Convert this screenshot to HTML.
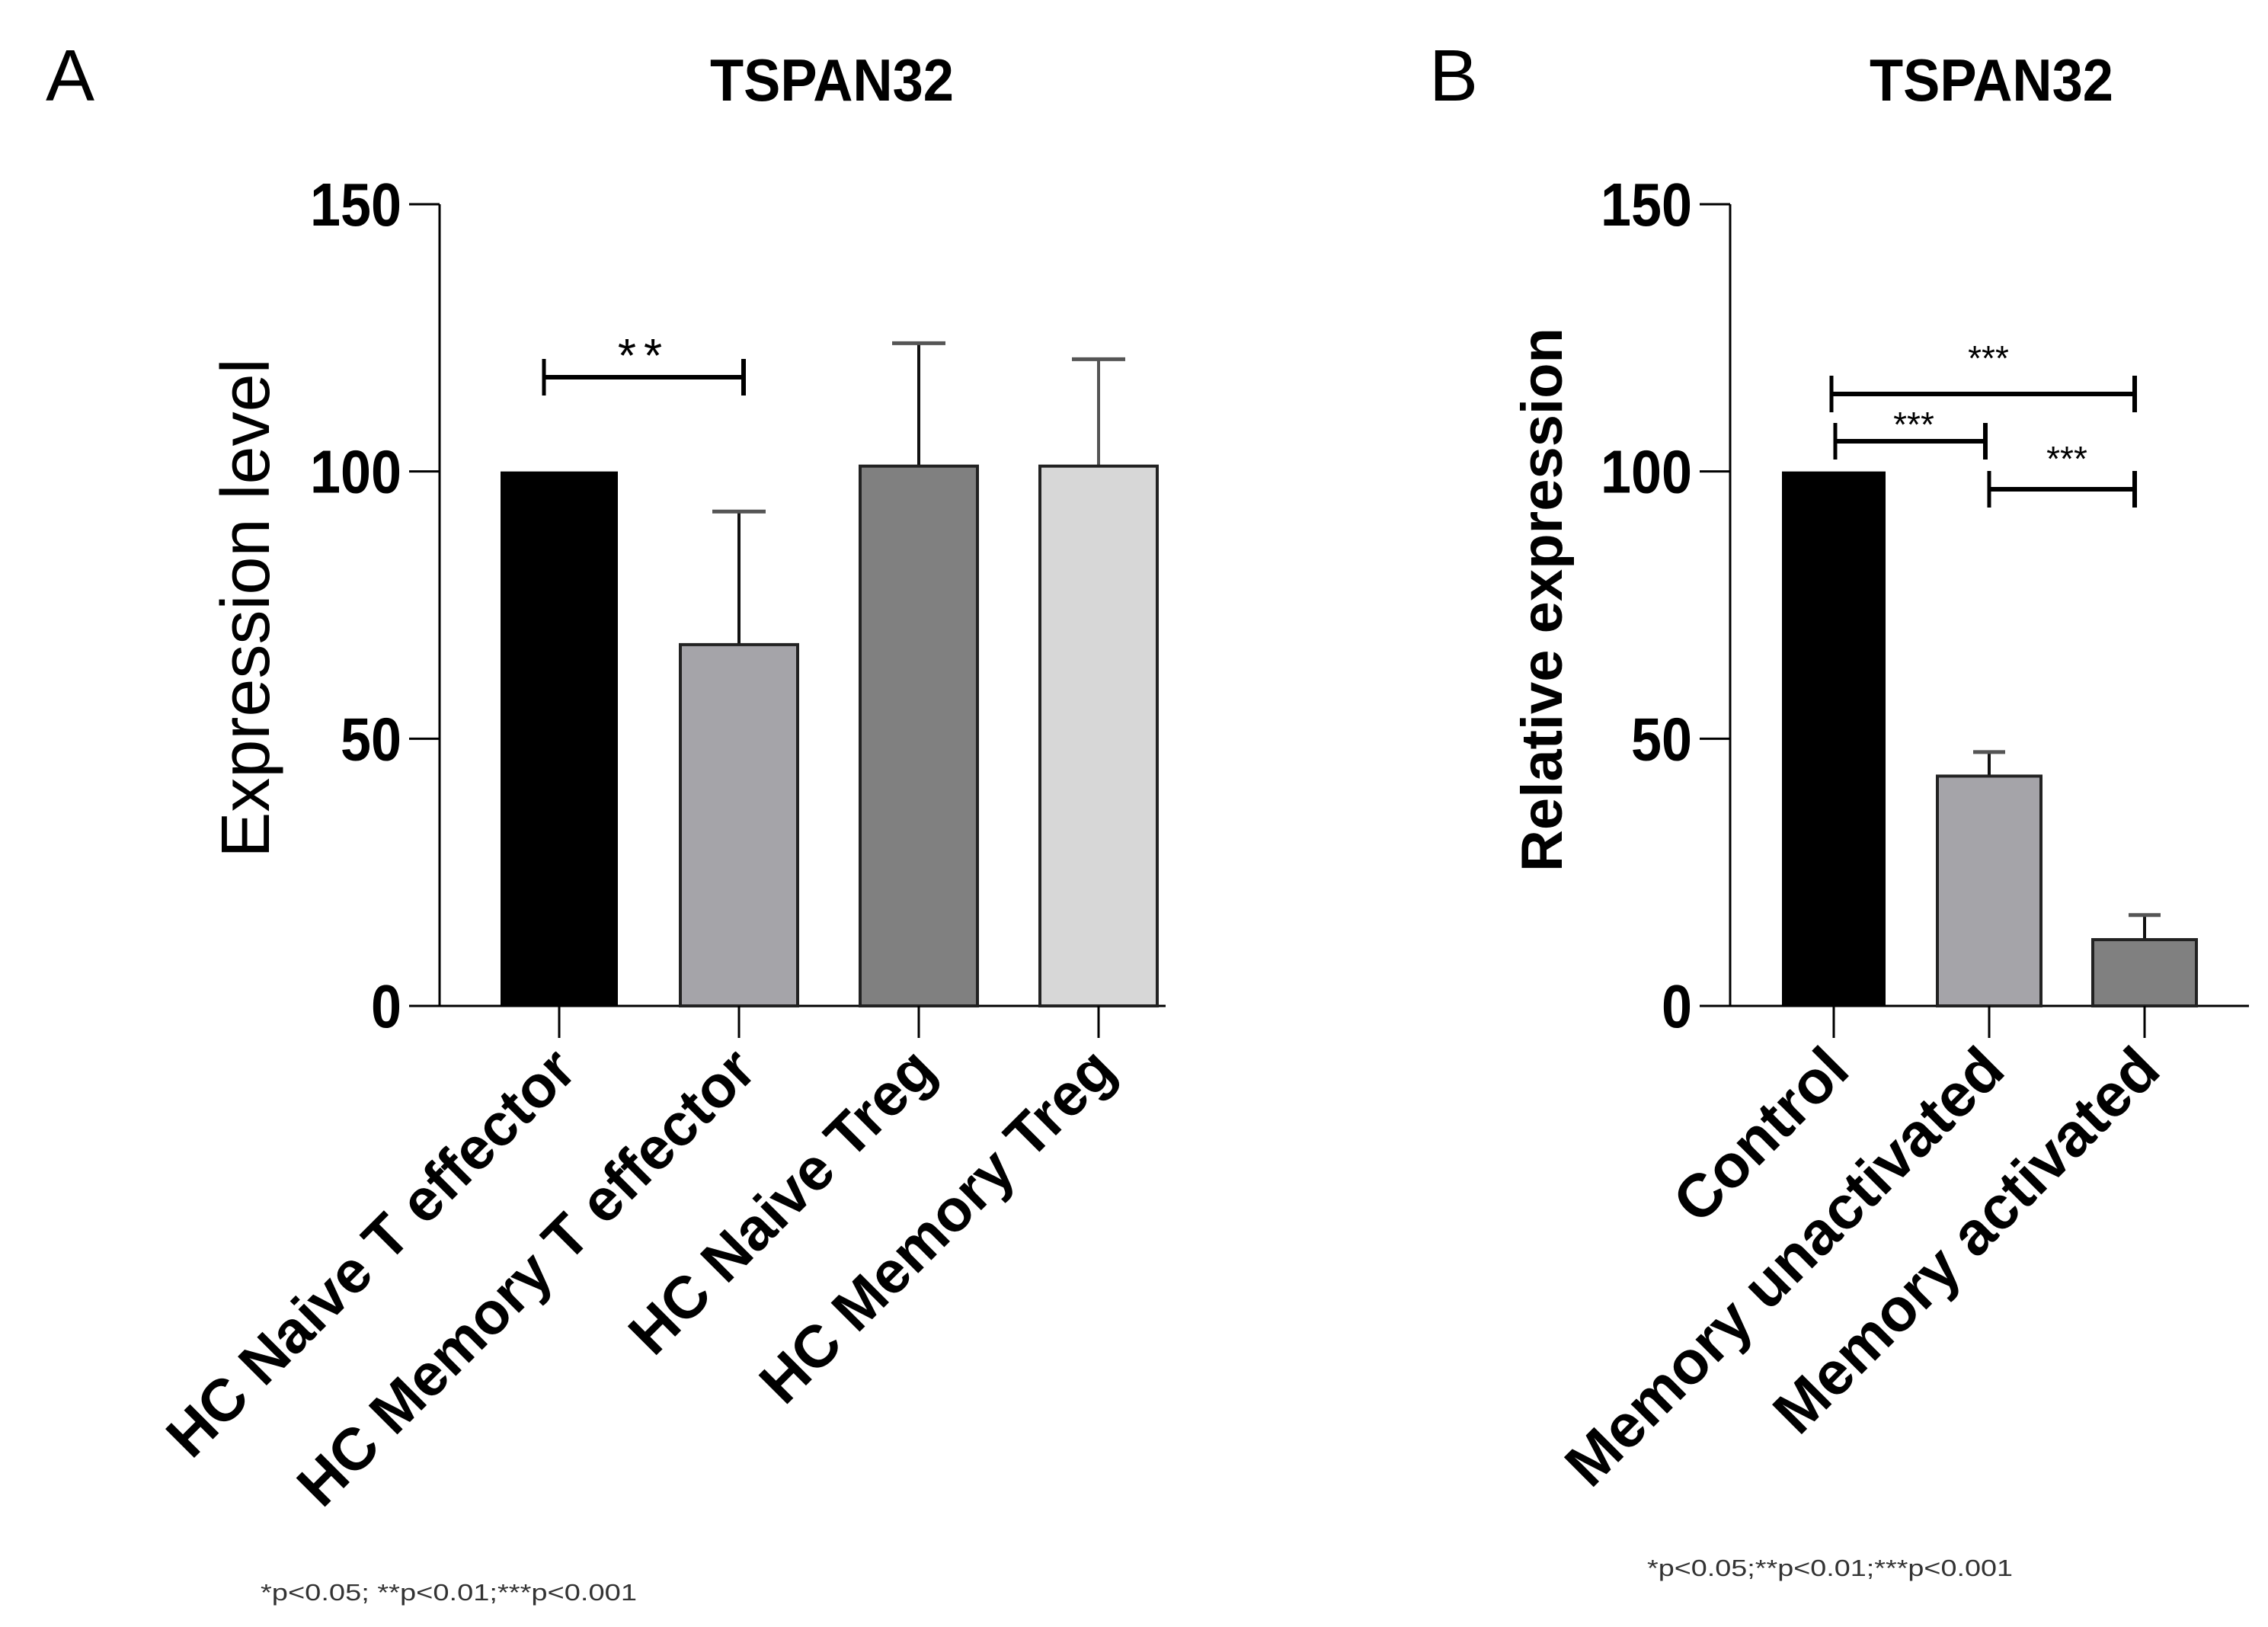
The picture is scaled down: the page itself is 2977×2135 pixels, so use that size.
<!DOCTYPE html>
<html><head><meta charset="utf-8"><style>
html,body{margin:0;padding:0;background:#fff;}
svg{display:block;font-family:"Liberation Sans",Arial,sans-serif;}
</style></head><body>
<svg id="fig" width="2977" height="2135" viewBox="0 0 2977 2135" xmlns="http://www.w3.org/2000/svg"></svg>
<script>
// Panel A data
const catsA = ["HC Naive T effector","HC Memory T effector","HC Naive Treg","HC Memory Treg"];
const meansA = [100, 67.6, 101, 101];
const errA = [0, 24.9, 23, 20];
// Panel B data
const catsB = ["Control","Memory unactivated","Memory activated"];
const meansB = [100, 43, 12.4];
const errB = [0, 4.5, 4.6];
const yTicks = [0, 50, 100, 150];
const colorsA = ["#000000","#a5a4a9","#808080","#d7d7d7"];
const colorsB = ["#000000","#a5a4a9","#808080"];

const NS = "http://www.w3.org/2000/svg";
const svg = document.getElementById('fig');
function mk(tag, attrs, parent, text){
  const e = document.createElementNS(NS, tag);
  for (const k in attrs) e.setAttribute(k, attrs[k]);
  if (text !== undefined) e.textContent = text;
  (parent||svg).appendChild(e);
  return e;
}
const y0 = 1320, yTop = 268;
function yScale(v){ return y0 - (y0 - yTop) * v / 150; }

function panel(cfg){
  const g = mk('g', {});
  
  
  const L = mk('text', {x: cfg.letterX, y: 132, 'font-size': 96}, g, cfg.letter);
  
  
  const T = mk('text', {x: cfg.titleX, y: 132, 'font-size': 78, 'font-weight': 'bold', 'text-anchor': 'middle', textLength: 320, lengthAdjust: 'spacingAndGlyphs'}, g, 'TSPAN32');
  
  
  const ax = mk('line', {x1: cfg.axisX, y1: yTop, x2: cfg.axisX, y2: y0, stroke: '#000', 'stroke-width': 3}, g);
  
  
  yTicks.forEach(v => {
    const yy = yScale(v);
    const tk = mk('line', {x1: cfg.axisX - 40, y1: yy, x2: cfg.axisX, y2: yy, stroke: '#000', 'stroke-width': 3}, g);
    
    
    const s = String(v);
    const tl = mk('text', {x: cfg.axisX - 50, y: yy + 28, 'font-size': 80, 'font-weight': 'bold', 'text-anchor': 'end', textLength: 40 * s.length, lengthAdjust: 'spacingAndGlyphs'}, g, s);
    
    
  });
  const xa = mk('line', {x1: cfg.axisX - 40, y1: y0, x2: cfg.axisEnd, y2: y0, stroke: '#000', 'stroke-width': 3}, g);
  
  
  const yt = mk('text', {x: 0, y: 0, 'font-size': cfg.ytSize, 'font-weight': cfg.ytWeight, 'text-anchor': 'middle',
    transform: `translate(${cfg.ytX},${cfg.ytY}) rotate(-90)`}, g, cfg.ytitle);
  
  
  cfg.cats.forEach((c, i) => {
    const cx = cfg.x0 + i * cfg.step;
    const top = yScale(cfg.means[i]);
    if (cfg.errs[i] > 0) {
      const et = yScale(cfg.means[i] + cfg.errs[i]);
      const el = mk('line', {x1: cx, y1: top, x2: cx, y2: et, stroke: i===3 ? '#555' : '#111', 'stroke-width': 4}, g);
      
      
      const ec = mk('line', {x1: cx - cfg.cap/2, y1: et, x2: cx + cfg.cap/2, y2: et, stroke: '#555', 'stroke-width': 5}, g);
      
      
    }
    const r = mk('rect', {x: cx - cfg.bw/2, y: top, width: cfg.bw, height: y0 - top, fill: cfg.colors[i],
      stroke: i===0 ? '#000' : '#222', 'stroke-width': i===0 ? 0 : 4}, g);
    
    
    const xt = mk('line', {x1: cx, y1: y0, x2: cx, y2: y0 + 42, stroke: '#000', 'stroke-width': 3}, g);
    
    
    const xl = mk('text', {x: 0, y: 0, 'font-size': cfg.xlSize, 'font-weight': 'bold', 'text-anchor': 'end',
      transform: `translate(${cx + cfg.xlDx},${y0 + cfg.xlDy}) rotate(-45)`}, g, c);
    
    
  });
  cfg.brackets.forEach(b => {
    const bg = mk('g', {}, g);
    
    
    mk('line', {x1: b.x1, y1: b.y, x2: b.x2, y2: b.y, stroke: '#000', 'stroke-width': 6}, bg);
    mk('line', {x1: b.x1, y1: b.y - 24, x2: b.x1, y2: b.y + 24, stroke: '#000', 'stroke-width': 5}, bg);
    mk('line', {x1: b.x2, y1: b.y - 24, x2: b.x2, y2: b.y + 24, stroke: '#000', 'stroke-width': 6}, bg);
    const st = mk('text', {x: b.sx, y: b.sy, 'font-size': b.fs, 'text-anchor': 'middle', 'letter-spacing': b.ls}, bg, b.label);
    
    
  });
  const fn = mk('text', {x: cfg.fnX, y: cfg.fnY, 'font-size': 31, fill: '#333', textLength: cfg.fnW, lengthAdjust: 'spacingAndGlyphs'}, g, cfg.fnText);
  
  
}

panel({name:'panel-a', letter:'A', letterX:60, titleX:1092, axisX:577, axisEnd:1530,
  ytitle:'Expression level', ytSize:90, ytWeight:'normal', ytX:353, ytY:798,
  cats:catsA, means:meansA, errs:errA, colors:colorsA, x0:734, step:236, bw:154, cap:70,
  xlSize:78, xlDx:26, xlDy:88,
  brackets:[{x1:714,x2:976,y:495,sx:845,sy:488,fs:62,ls:10,label:'**'}],
  fnX:342, fnY:2100, fnW:494, fnText:'*p<0.05; **p<0.01;***p<0.001'});
panel({name:'panel-b', letter:'B', letterX:1876, titleX:2614, axisX:2271, axisEnd:2952,
  ytitle:'Relative expression', ytSize:76, ytWeight:'bold', ytX:2050, ytY:787,
  cats:catsB, means:meansB, errs:errB, colors:colorsB, x0:2407, step:204, bw:136, cap:42,
  xlSize:80, xlDx:24, xlDy:88,
  brackets:[{x1:2404,x2:2802,y:517,sx:2610,sy:486,fs:46,ls:0,label:'***'},
            {x1:2409,x2:2606,y:579,sx:2512,sy:573,fs:46,ls:0,label:'***'},
            {x1:2611,x2:2802,y:642,sx:2713,sy:618,fs:46,ls:0,label:'***'}],
  fnX:2162, fnY:2068, fnW:480, fnText:'*p<0.05;**p<0.01;***p<0.001'});
</script>
</body></html>
